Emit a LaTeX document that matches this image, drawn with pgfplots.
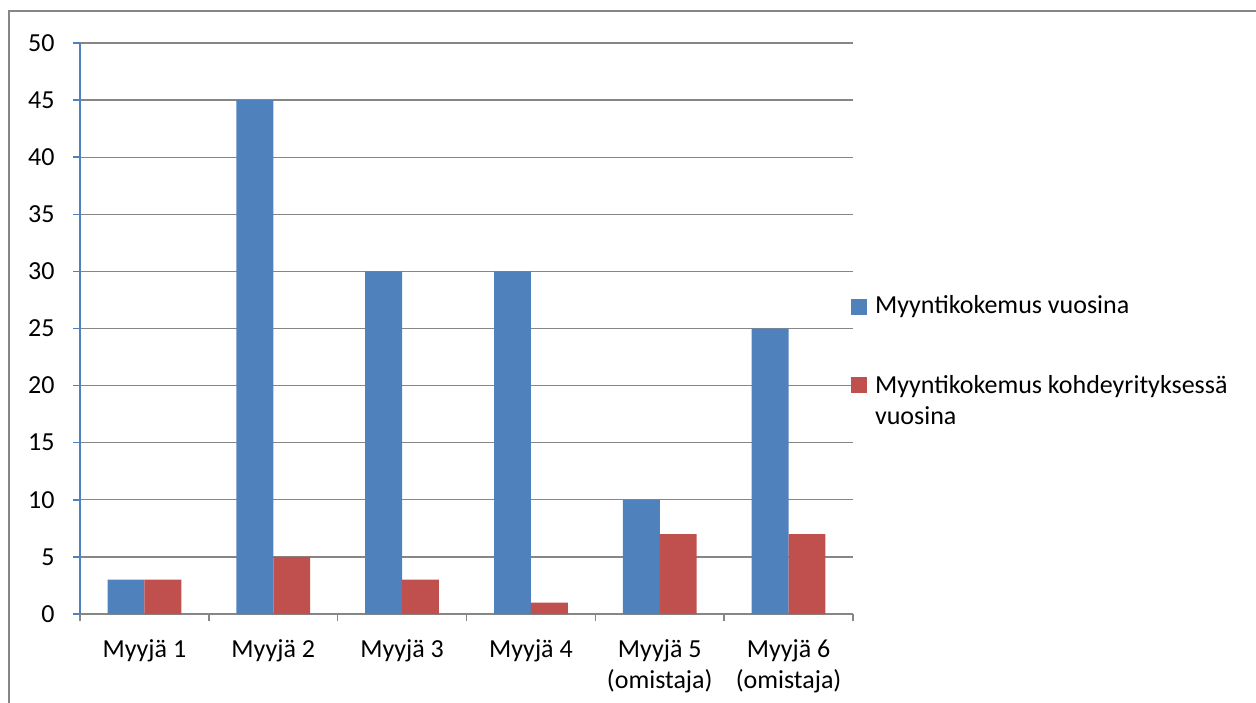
\documentclass[border=0pt]{standalone}
\usepackage{pgfplots}
\pgfplotsset{compat=1.18}
\usepackage{fontspec}
\setmainfont{Carlito}
\definecolor{xlblue}{HTML}{4F81BD}
\definecolor{xlred}{HTML}{C0504D}
\definecolor{xlgrid}{HTML}{868686}
\begin{document}
\fontsize{13pt}{15.5pt}\selectfont
\begin{tikzpicture}
\useasboundingbox (0,0) rectangle (628pt,351pt);
\clip (0,0) rectangle (628pt,351pt);
\draw[xlgrid, line width=1pt] (4.6pt,-10pt) -- (4.6pt,345.5pt) -- (640pt,345.5pt);
\begin{axis}[
  at={(40pt,44pt)}, anchor=south west,
  scale only axis, width=386.5pt, height=285.5pt,
  xmin=-0.5, xmax=5.5, ymin=0, ymax=50,
  ytick={0,5,...,50},
  ymajorgrids, grid style={xlgrid, line width=0.6pt},
  axis x line*=bottom, axis y line*=left,
  x axis line style={xlgrid, line width=0.75pt, -},
  y axis line style={xlblue, line width=0.75pt, -},
  tick align=outside,
  major tick length=3.5pt,
  ytick style={xlblue, line width=0.75pt},
  xtick={-0.5,0.5,1.5,2.5,3.5,4.5,5.5}, xticklabels={},
  xtick style={xlgrid, line width=0.75pt},
  extra x ticks={0,1,2,3,4,5},
  extra x tick labels={Myyjä 1, Myyjä 2, Myyjä 3, Myyjä 4, {Myyjä 5\\(omistaja)}, {Myyjä 6\\(omistaja)}},
  extra x tick style={major tick length=0pt, grid=none},
  xticklabel style={align=center, anchor=north, inner sep=0pt, yshift=-12.5pt, font=\fontsize{13pt}{15.5pt}\selectfont},
  yticklabel style={anchor=east, inner sep=0pt, xshift=-9pt, font=\fontsize{13pt}{15.5pt}\selectfont},
  /pgf/number format/assume math mode=true,
  ybar,
  legend cell align=left,
  legend style={at={(axis description cs:0.997,0.565)}, anchor=north west, draw=none, fill=none,
    inner sep=0pt, row sep=23pt, column sep=2pt,
    font=\fontsize{13pt}{15.5pt}\selectfont},
  legend image code/.code={\fill[#1,draw=none] (0pt,-4pt) rectangle (8pt,4pt);},
]
\addplot[ybar, bar width=0.286, bar shift=-0.143, fill=xlblue, draw=none]
  coordinates {(0,3) (1,45) (2,30) (3,30) (4,10) (5,25)};
\addplot[ybar, bar width=0.286, bar shift=0.143, fill=xlred, draw=none]
  coordinates {(0,3) (1,5) (2,3) (3,1) (4,7) (5,7)};
\legend{Myyntikokemus vuosina, {\begin{tabular}[t]{@{}l@{}}Myyntikokemus kohdeyrityksessä\\vuosina\end{tabular}}}
\end{axis}
\end{tikzpicture}
\end{document}
